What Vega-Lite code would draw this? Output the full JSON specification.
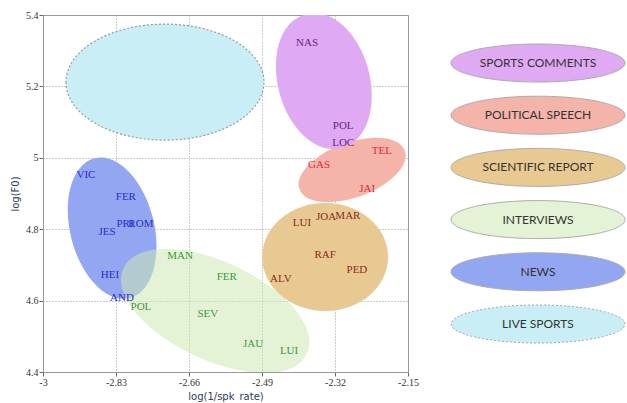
{
  "$schema": "https://vega.github.io/schema/vega-lite/v6.json",
  "padding": {"left": 10, "top": 9, "right": 0, "bottom": 0},
  "spacing": 29,
  "background": "white",
  "config": {"view": {"stroke": null}},
  "datasets": {
    "regions": [
      {"genre": "LIVE SPORTS", "x": -2.716, "y": 5.212},
      {"genre": "POLITICAL SPEECH", "x": -2.280, "y": 4.966},
      {"genre": "SPORTS COMMENTS", "x": -2.346, "y": 5.215},
      {"genre": "SCIENTIFIC REPORT", "x": -2.343, "y": 4.722},
      {"genre": "NEWS", "x": -2.839, "y": 4.803},
      {"genre": "INTERVIEWS", "x": -2.599, "y": 4.571}
    ],
    "speakers": [
      {"genre": "NEWS", "speaker": "VIC", "x": -2.900, "y": 4.952},
      {"genre": "NEWS", "speaker": "FER", "x": -2.807, "y": 4.890},
      {"genre": "NEWS", "speaker": "PRI", "x": -2.809, "y": 4.815},
      {"genre": "NEWS", "speaker": "ROM", "x": -2.772, "y": 4.815},
      {"genre": "NEWS", "speaker": "JES", "x": -2.851, "y": 4.792},
      {"genre": "NEWS", "speaker": "HEI", "x": -2.844, "y": 4.672},
      {"genre": "NEWS", "speaker": "AND", "x": -2.816, "y": 4.607},
      {"genre": "INTERVIEWS", "speaker": "MAN", "x": -2.681, "y": 4.725},
      {"genre": "INTERVIEWS", "speaker": "POL", "x": -2.772, "y": 4.582},
      {"genre": "INTERVIEWS", "speaker": "SEV", "x": -2.616, "y": 4.563},
      {"genre": "INTERVIEWS", "speaker": "FER", "x": -2.572, "y": 4.666},
      {"genre": "INTERVIEWS", "speaker": "JAU", "x": -2.511, "y": 4.478},
      {"genre": "INTERVIEWS", "speaker": "LUI", "x": -2.427, "y": 4.459},
      {"genre": "SCIENTIFIC REPORT", "speaker": "LUI", "x": -2.397, "y": 4.817},
      {"genre": "SCIENTIFIC REPORT", "speaker": "JOA", "x": -2.341, "y": 4.834},
      {"genre": "SCIENTIFIC REPORT", "speaker": "MAR", "x": -2.290, "y": 4.837},
      {"genre": "SCIENTIFIC REPORT", "speaker": "RAF", "x": -2.343, "y": 4.728},
      {"genre": "SCIENTIFIC REPORT", "speaker": "PED", "x": -2.269, "y": 4.686},
      {"genre": "SCIENTIFIC REPORT", "speaker": "ALV", "x": -2.446, "y": 4.660},
      {"genre": "POLITICAL SPEECH", "speaker": "TEL", "x": -2.211, "y": 5.019},
      {"genre": "POLITICAL SPEECH", "speaker": "GAS", "x": -2.357, "y": 4.980},
      {"genre": "POLITICAL SPEECH", "speaker": "JAI", "x": -2.245, "y": 4.913},
      {"genre": "SPORTS COMMENTS", "speaker": "NAS", "x": -2.385, "y": 5.322},
      {"genre": "SPORTS COMMENTS", "speaker": "POL", "x": -2.301, "y": 5.089},
      {"genre": "SPORTS COMMENTS", "speaker": "LOC", "x": -2.301, "y": 5.041}
    ]
  },
  "hconcat": [
    {
      "width": 365,
      "height": 357,
      "view": {"stroke": "#999", "strokeWidth": 1},
      "encoding": {
        "x": {
          "field": "x", "type": "quantitative", "title": "log(1/spk_rate)",
          "scale": {"domain": [-3, -2.15], "nice": false, "zero": false},
          "axis": {
            "values": [-3, -2.83, -2.66, -2.49, -2.32, -2.15],
            "labelExpr": "toString(datum.value)",
            "labelFlush": false,
            "grid": true, "gridDash": [1, 2], "gridColor": "#999",
            "domainColor": "#999", "tickColor": "#666", "tickSize": 4,
            "labelPadding": 1, "labelFont": "Liberation Serif", "labelFontSize": 10, "labelColor": "#333",
            "titleFont": "DejaVu Sans", "titleFontSize": 10, "titleFontWeight": "normal",
            "titleColor": "#2d3a5c", "titlePadding": 4
          }
        },
        "y": {
          "field": "y", "type": "quantitative", "title": "log(F0)",
          "scale": {"domain": [4.4, 5.4], "nice": false, "zero": false},
          "axis": {
            "values": [4.4, 4.6, 4.8, 5, 5.2, 5.4],
            "labelExpr": "toString(datum.value)",
            "labelFlush": false,
            "grid": true, "gridDash": [1, 2], "gridColor": "#999",
            "domainColor": "#999", "tickColor": "#666", "tickSize": 4,
            "labelPadding": 1, "labelFont": "Liberation Serif", "labelFontSize": 10, "labelColor": "#333",
            "titleFont": "DejaVu Sans", "titleFontSize": 10, "titleFontWeight": "normal",
            "titleColor": "#2d3a5c", "titlePadding": 5
          }
        }
      },
      "layer": [
        {
          "data": {"name": "regions"},
          "mark": {"type": "point", "filled": true, "opacity": 1, "size": 4, "stroke": "#999", "strokeDash": [2, 2], "clip": true},
          "encoding": {
            "shape": {
              "field": "genre", "type": "nominal", "legend": null,
              "scale": {
                "domain": ["LIVE SPORTS", "POLITICAL SPEECH", "SPORTS COMMENTS", "SCIENTIFIC REPORT", "NEWS", "INTERVIEWS"],
                "range": [
                  "M-99,0A99,58 0 1,0 99,0A99,58 0 1,0 -99,0Z",
                  "M-52.6,19.2A56,27 -20 1,0 52.6,-19.2A56,27 -20 1,0 -52.6,19.2Z",
                  "M-17.9,-66.6A69,44.5 75 1,0 17.9,66.6A69,44.5 75 1,0 -17.9,-66.6Z",
                  "M-63,0A63,54 0 1,0 63,0A63,54 0 1,0 -63,0Z",
                  "M-17.4,-69.9A72,42 76 1,0 17.4,69.9A72,42 76 1,0 -17.4,-69.9Z",
                  "M-91.5,-42.7A101,48 25 1,0 91.5,42.7A101,48 25 1,0 -91.5,-42.7Z"
                ]
              }
            },
            "fill": {
              "field": "genre", "type": "nominal", "legend": null,
              "scale": {
                "domain": ["SPORTS COMMENTS", "POLITICAL SPEECH", "SCIENTIFIC REPORT", "INTERVIEWS", "NEWS", "LIVE SPORTS"],
                "range": ["#dfa9f3", "#f4b4aa", "#e9c992", "rgba(205,234,180,0.55)", "#93a6f1", "#c9eef6"]
              }
            },
            "strokeWidth": {"condition": {"test": "datum.genre === 'LIVE SPORTS'", "value": 1.2}, "value": 0}
          }
        },
        {
          "data": {"name": "speakers"},
          "mark": {"type": "text", "font": "Liberation Serif", "fontSize": 11, "align": "center", "baseline": "middle"},
          "encoding": {
            "text": {"field": "speaker"},
            "color": {
              "field": "genre", "type": "nominal", "legend": null,
              "scale": {
                "domain": ["SPORTS COMMENTS", "POLITICAL SPEECH", "SCIENTIFIC REPORT", "INTERVIEWS", "NEWS", "LIVE SPORTS"],
                "range": ["#6b1f86", "#e22b36", "#8a2b22", "#3c9a3c", "#2b2bd0", "#333333"]
              }
            }
          }
        }
      ]
    },
    {
      "width": 180,
      "height": 357,
      "data": {"name": "regions"},
      "encoding": {
        "y": {
          "field": "genre", "type": "nominal", "axis": null,
          "sort": ["SPORTS COMMENTS", "POLITICAL SPEECH", "SCIENTIFIC REPORT", "INTERVIEWS", "NEWS", "LIVE SPORTS"],
          "scale": {"padding": 0.92}
        }
      },
      "layer": [
        {
          "mark": {"type": "point", "filled": true, "opacity": 1, "size": 4, "stroke": "#aaa", "strokeWidth": 1,
                   "shape": "M-87,0A87,19 0 1,0 87,0A87,19 0 1,0 -87,0Z"},
          "encoding": {
            "fill": {"field": "genre", "type": "nominal", "legend": null},
            "strokeDash": {"condition": {"test": "datum.genre === 'LIVE SPORTS'", "value": [2, 2]}, "value": [1, 0]}
          }
        },
        {
          "mark": {"type": "text", "font": "Lato", "fontSize": 12, "color": "#333", "align": "center", "baseline": "middle"},
          "encoding": {"text": {"field": "genre"}}
        }
      ]
    }
  ],
  "resolve": {"scale": {"x": "independent", "y": "independent"}}
}
